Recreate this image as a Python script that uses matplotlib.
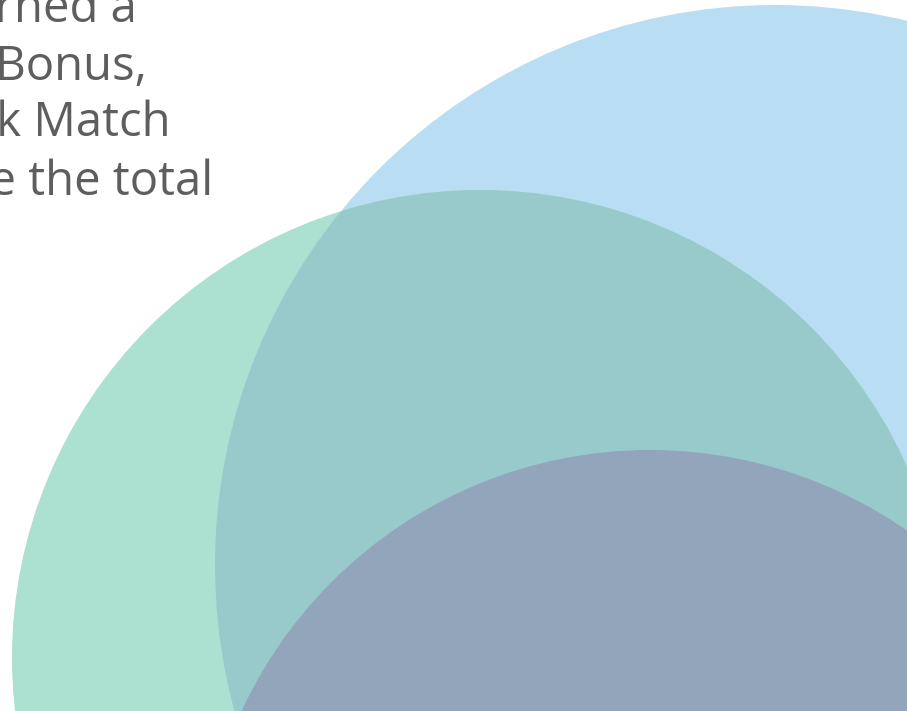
import matplotlib.pyplot as plt
from matplotlib.patches import Circle

# circles in pixel space of the picture (x, y from top, radius)
circle_names = ["blue", "green", "dark"]
circle_x = [775, 480, 650]
circle_y = [565, 658, 900]
circle_r = [560, 468, 450]
circle_colors = ["#B9DEF3", "#ACE0D1", "#93A5BA"]
overlap_color = "#99CACB"

text_lines = ["earned a", " Bonus,", "Quick Match", "are the total"]
text_right = [137, 147, 171, 213]
text_base = [22, 80, 137, 195]

fig = plt.figure(figsize=(9.07, 7.11), dpi=100)
ax = fig.add_axes([0, 0, 1, 1])
ax.set_xlim(0, 907)
ax.set_ylim(711, 0)
ax.axis("off")

blue = Circle((circle_x[0], circle_y[0]), circle_r[0], color=circle_colors[0], lw=0)
green = Circle((circle_x[1], circle_y[1]), circle_r[1], color=circle_colors[1], lw=0)
ax.add_patch(blue)
ax.add_patch(green)

# overlap of blue and green
ov = Circle((circle_x[1], circle_y[1]), circle_r[1], color=overlap_color, lw=0)
ax.add_patch(ov)
ov.set_clip_path(blue)

dark = Circle((circle_x[2], circle_y[2]), circle_r[2], color=circle_colors[2], lw=0)
ax.add_patch(dark)

for line, xr, yb in zip(text_lines, text_right, text_base):
    ax.text(xr, yb, line, ha="right", va="baseline", fontsize=34,
            family="Open Sans", color="#5E5E5E")

fig.savefig("out.png", dpi=100)
